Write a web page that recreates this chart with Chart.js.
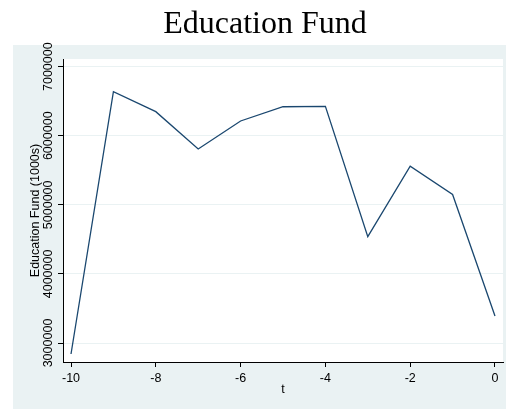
<!DOCTYPE html>
<html>
<head>
<meta charset="utf-8">
<script src="https://cdn.jsdelivr.net/npm/chart.js@4/dist/chart.umd.min.js"></script>
<style>
  html, body { margin: 0; padding: 0; background: #fff; }
  canvas { display: block; }
</style>
</head>
<body>
<canvas id="fundChart" width="508" height="409"></canvas>
<script>
// ---- data ----
const tValues    = [-10, -9, -8, -7, -6, -5, -4, -3, -2, -1, 0];
const fundValues = [2841000, 6638000, 6349000, 5809000, 6214000, 6420000, 6425000, 4540000, 5560000, 5150000, 3390000];
const xTicks     = [-10, -8, -6, -4, -2, 0];
const yTicks     = [3000000, 4000000, 5000000, 6000000, 7000000];

const NAVY = "#1a476f";
const BG   = "#eaf2f3";
const GRID = "#eaf2f3";
const SANS = "'Liberation Sans', Arial, sans-serif";

// fondo estilo Stata: marco gris azulado + región de gráfica blanca
const bgPlugin = {
  id: "bgPlugin",
  beforeDraw(chart) {
    const {ctx, chartArea: a} = chart;
    ctx.save();
    ctx.fillStyle = "#fff";
    ctx.fillRect(0, 0, chart.width, chart.height);
    ctx.fillStyle = BG;
    ctx.fillRect(13, 45, 493, 364);
    ctx.fillStyle = "#fff";
    ctx.fillRect(a.left, a.top, a.right - a.left, a.bottom - a.top);
    ctx.restore();
  }
};

new Chart(document.getElementById("fundChart"), {
  type: "line",
  data: {
    datasets: [{
      label: "Education Fund",
      data: tValues.map((t, i) => ({x: t, y: fundValues[i]})),
      borderColor: NAVY,
      borderWidth: 1.3,
      pointRadius: 0,
      tension: 0,
      fill: false
    }]
  },
  options: {
    responsive: false,
    animation: false,
    layout: { padding: { left: 27, right: 5, top: 0, bottom: 0 } },
    plugins: {
      legend: { display: false },
      tooltip: { enabled: false },
      title: {
        display: true,
        text: "Education Fund",
        color: "#000",
        font: { family: "'Liberation Serif', 'Times New Roman', serif", size: 32, weight: "normal" },
        padding: { top: 5, bottom: 15.6 }
      }
    },
    scales: {
      x: {
        type: "linear",
        min: -10.189,
        max: 0.189,
        afterBuildTicks: s => { s.ticks = xTicks.map(v => ({value: v})); },
        afterFit: s => { s.height = 47; },
        border: { color: "#000", width: 1 },
        grid: { drawOnChartArea: false, drawTicks: true, tickLength: 5, tickColor: "#000" },
        ticks: {
          color: "#000",
          font: { family: SANS, size: 12.5 },
          padding: 4,
          maxRotation: 0,
          autoSkip: false
        },
        title: {
          display: true,
          text: "t",
          color: "#000",
          font: { family: SANS, size: 12.5 },
          padding: { top: 0, bottom: 12 }
        }
      },
      y: {
        type: "linear",
        min: 2725000,
        max: 7111000,
        afterBuildTicks: s => { s.ticks = yTicks.map(v => ({value: v})); },
        afterFit: s => { s.width = 36; },
        border: { color: "#000", width: 1 },
        grid: { color: GRID, lineWidth: 1, drawTicks: true, tickLength: 5, tickColor: "#000" },
        ticks: {
          color: "#000",
          font: { family: SANS, size: 12.5 },
          minRotation: 90,
          maxRotation: 90,
          crossAlign: "center",
          padding: -15,
          autoSkip: false,
          callback: v => String(v)
        },
        title: {
          display: true,
          text: "Education Fund (1000s)",
          color: "#000",
          font: { family: SANS, size: 12.5 },
          padding: { top: 1, bottom: 0 }
        }
      }
    }
  },
  plugins: [bgPlugin]
});
</script>
</body>
</html>
